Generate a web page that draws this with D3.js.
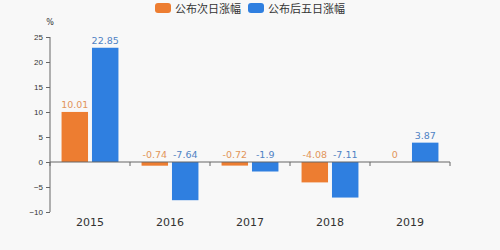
<!DOCTYPE html>
<html><head><meta charset="utf-8">
<script src="https://cdnjs.cloudflare.com/ajax/libs/d3/7.8.5/d3.min.js"></script>
<style>
html,body{margin:0;padding:0;background:#f8f8f8;}
svg{display:block;font-family:"DejaVu Sans","Noto Sans CJK SC",sans-serif;}
</style></head>
<body><svg id="c" width="500" height="250"></svg>
<script>
const categories = ["2015","2016","2017","2018","2019"];
const seriesNames = ["公布次日涨幅","公布后五日涨幅"];
const nextDay = [10.01,-0.74,-0.72,-4.08,0];
const fiveDay = [22.85,-7.64,-1.9,-7.11,3.87];
const yTicks = [-10,-5,0,5,10,15,20,25];
const colors = ["#ed7d31","#2f7fe0"];
const labelColors = ["#e2955a","#4f82c4"];

const svg = d3.select("#c");
const x = d3.scaleBand().domain(categories).range([50,450]);
const y = d3.scaleLinear().domain([-10,25]).range([212,37]);
const sub = d3.scaleBand().domain([0,1]).range([0,x.bandwidth()]).paddingInner(0.13).paddingOuter(0.38);

// y axis
const ya = svg.append("g").attr("transform","translate(50,0)")
  .call(d3.axisLeft(y).tickValues(yTicks).tickSize(4).tickPadding(3).tickFormat(d3.format("d")));
ya.select(".domain").remove();
ya.append("line").attr("x1",0).attr("x2",0).attr("y1",y(25)).attr("y2",y(-10)).attr("stroke","#666");
ya.selectAll(".tick line").attr("stroke","#666");
ya.selectAll(".tick text").attr("fill","#333").attr("font-size",8);

svg.append("text").attr("x",50).attr("y",25).attr("text-anchor","middle").attr("font-size",8).attr("fill","#333").text("%");

const series = [nextDay, fiveDay];
series.forEach((vals,si)=>{
  svg.append("g").selectAll("rect").data(vals).join("rect")
    .attr("x",(d,i)=>x(categories[i])+sub(si))
    .attr("width",sub.bandwidth())
    .attr("y",d=>y(Math.max(0,d)))
    .attr("height",d=>Math.abs(y(d)-y(0)))
    .attr("fill",colors[si]);
  svg.append("g").selectAll("text").data(vals).join("text")
    .attr("x",(d,i)=>x(categories[i])+sub(si)+sub.bandwidth()/2)
    .attr("y",d=>y(Math.max(0,d))-4)
    .attr("text-anchor","middle").attr("font-size",9.5)
    .attr("fill",labelColors[si])
    .text(d=>d);
});

// x axis at zero
const xa = svg.append("g").attr("transform","translate(0,"+y(0)+")");
xa.append("line").attr("x1",50).attr("x2",450).attr("stroke","#666");
const bounds = categories.map(c=>x(c)).concat([x.range()[1]]);
xa.selectAll("line.t").data(bounds).join("line").attr("class","t")
  .attr("x1",d=>d).attr("x2",d=>d).attr("y1",0).attr("y2",4).attr("stroke","#666");
svg.append("g").selectAll("text").data(categories).join("text")
  .attr("x",d=>x(d)+x.bandwidth()/2).attr("y",226)
  .attr("text-anchor","middle").attr("font-size",11).attr("fill","#333").text(d=>d);

// legend
const lg = svg.append("g");
const legX = [155,248];
seriesNames.forEach((n,i)=>{
  lg.append("rect").attr("x",legX[i]).attr("y",3).attr("width",16).attr("height",10).attr("rx",3).attr("fill",colors[i]);
  lg.append("text").attr("x",legX[i]+20).attr("y",12.5).attr("font-size",11).attr("fill","#333").text(n);
});
</script></body></html>
